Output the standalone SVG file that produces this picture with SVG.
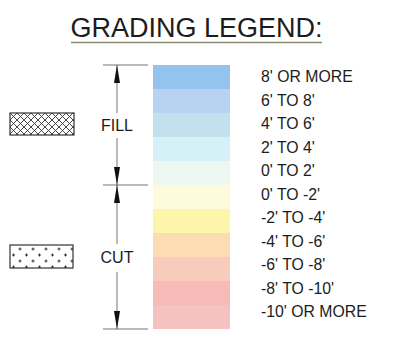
<svg xmlns="http://www.w3.org/2000/svg" width="393" height="338" viewBox="0 0 393 338">
<defs>
<style>
text{font-family:"Liberation Sans",Arial,sans-serif;fill:#1c1c1c}
.lbl{font-size:15.8px}
.dim{stroke:#555;stroke-width:0.8;fill:none}
.ext{stroke:#777;stroke-width:1;fill:none}
.box{stroke:#333;stroke-width:1.2}
</style>
<pattern id="xhatch" width="7" height="7" patternUnits="userSpaceOnUse" x="10" y="113">
<path d="M0 0L7 7M7 0L0 7" stroke="#333" stroke-width="0.9"/>
</pattern>
<pattern id="plus" width="13" height="12" patternUnits="userSpaceOnUse" x="7" y="245">
<path d="M11.5 4h3M13 2.5v3M-1.5 4h3M0 2.5v3M5 10h3M6.5 8.5v3" stroke="#222" stroke-width="0.9"/>
</pattern>
<marker id="ah" viewBox="0 0 18 6" refX="18" refY="3" markerWidth="18" markerHeight="6" markerUnits="userSpaceOnUse" orient="auto-start-reverse">
<path d="M0 0L18 3L0 6Z" fill="#111"/>
</marker>
</defs>
<rect width="393" height="338" fill="#fff"/>
<g id="title">
<text x="196.5" y="37" font-size="27" text-anchor="middle">GRADING LEGEND:</text>
<line x1="71" y1="42.5" x2="322" y2="42.5" stroke="#8a8a6e" stroke-width="1.6"/>
</g>
<g id="fill-symbol">
<rect x="10" y="113" width="64" height="22" fill="url(#xhatch)" class="box"/>
</g>
<g id="cut-symbol">
<rect x="10" y="245" width="63" height="23" fill="url(#plus)" class="box"/>
</g>
<g id="color-bar">
<rect x="153" y="65" width="77" height="24" fill="#94c4ee"/>
<rect x="153" y="89" width="77" height="24" fill="#b7d3f1"/>
<rect x="153" y="113" width="77" height="24" fill="#c3e0ee"/>
<rect x="153" y="137" width="77" height="24" fill="#d6f0f7"/>
<rect x="153" y="161" width="77" height="24" fill="#eef8f3"/>
<rect x="153" y="185" width="77" height="24" fill="#fdfbdc"/>
<rect x="153" y="209" width="77" height="24" fill="#fdf6aa"/>
<rect x="153" y="233" width="77" height="24" fill="#fcdcb2"/>
<rect x="153" y="257" width="77" height="24" fill="#f9cbbc"/>
<rect x="153" y="281" width="77" height="24" fill="#f7bab7"/>
<rect x="153" y="305" width="77" height="24" fill="#f5c2bf"/>
</g>
<g id="labels">
<text x="261" y="82" class="lbl">8' OR MORE</text>
<text x="261" y="105.5" class="lbl">6' TO 8'</text>
<text x="261" y="129" class="lbl">4' TO 6'</text>
<text x="261" y="152.5" class="lbl">2' TO 4'</text>
<text x="261" y="176" class="lbl">0' TO 2'</text>
<text x="261" y="199.5" class="lbl">0' TO -2'</text>
<text x="261" y="223" class="lbl">-2' TO -4'</text>
<text x="261" y="246.5" class="lbl">-4' TO -6'</text>
<text x="261" y="270" class="lbl">-6' TO -8'</text>
<text x="261" y="293.5" class="lbl">-8' TO -10'</text>
<text x="261" y="317" class="lbl">-10' OR MORE</text>
</g>
<g id="fill-dimension">
<text x="117" y="131" font-size="16" text-anchor="middle">FILL</text>
</g>
<g id="cut-dimension">
<text x="117" y="263" font-size="16" text-anchor="middle">CUT</text>
</g>
<g id="connectors">
<line class="ext" x1="103" y1="65" x2="148" y2="65"/>
<line class="ext" x1="103" y1="185" x2="148" y2="185"/>
<line class="ext" x1="103" y1="329" x2="148" y2="329"/>
<line class="dim" x1="117" y1="65" x2="117" y2="113" marker-start="url(#ah)"/>
<line class="dim" x1="117" y1="138" x2="117" y2="185" marker-end="url(#ah)"/>
<line class="dim" x1="117" y1="185" x2="117" y2="244" marker-start="url(#ah)"/>
<line class="dim" x1="117" y1="272" x2="117" y2="329" marker-end="url(#ah)"/>
</g>
</svg>
